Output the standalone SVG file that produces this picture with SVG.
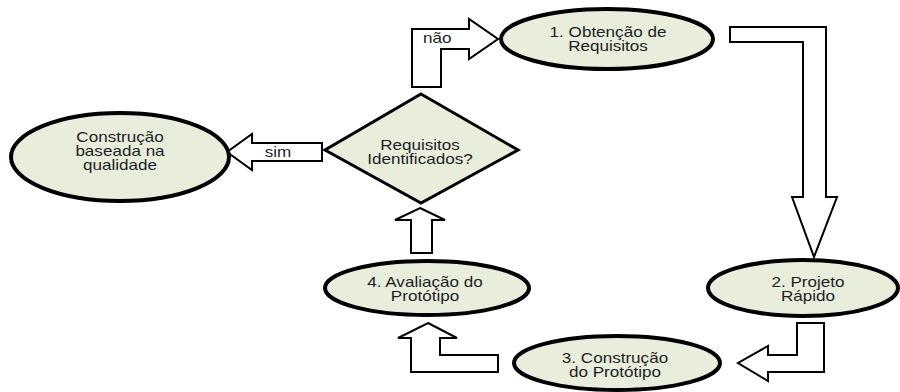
<svg xmlns="http://www.w3.org/2000/svg" width="900" height="392" viewBox="0 0 900 392">
  <style>
    .node { fill: #e8eedb; stroke: #000; stroke-width: 4; }
    .decision { fill: #e8eedb; stroke: #000; stroke-width: 3; }
    .flow { fill: #fff; stroke: #000; stroke-width: 2; stroke-linejoin: miter; }
    .lbl { font-family: "Liberation Sans", Arial, sans-serif; font-size: 14px; fill: #1e1e28; text-anchor: middle; }
    .lbl-start { text-anchor: start; }
  </style>
  <rect width="900" height="392" fill="#fff"/>

  <!-- block arrows between the steps -->
  <g id="connectors">
    <polygon class="flow" points="412,87 412,29 469,29 469,19 498,39 469,59 469,49 441,49 441,87"/>
    <polygon class="flow" points="730,27 826,27 826,197 837,197 814,257 792,197 803,197 803,42 730,42"/>
    <polygon class="flow" points="797,323 824,323 824,372 768,372 768,381 738,363 768,346 768,355 797,355"/>
    <polygon class="flow" points="428,323 457,338 440,338 440,355 498,355 498,372 411,372 411,338 398,338"/>
    <polygon class="flow" points="420,208 445,220 432,220 432,253 411,253 411,220 395,220"/>
    <polygon class="flow" points="322,143 322,161 252,161 252,170 227,152 252,134 252,143"/>
    <g transform="translate(423 0) scale(1.22 1)"><text class="lbl lbl-start" x="0" y="43">não</text></g>
    <g transform="translate(278 0) scale(1.22 1)"><text class="lbl" x="0" y="157">sim</text></g>
  </g>

  <g id="obtencao">
    <ellipse class="node" cx="607" cy="39" rx="106" ry="30"/>
    <g transform="translate(608 0) scale(1.22 1)">
      <text class="lbl" x="0" y="37">1. Obtenção de</text>
      <text class="lbl" x="0" y="51">Requisitos</text>
    </g>
  </g>

  <g id="projeto">
    <ellipse class="node" cx="803" cy="288" rx="95" ry="28"/>
    <g transform="translate(808 0) scale(1.22 1)">
      <text class="lbl" x="0" y="287">2. Projeto</text>
      <text class="lbl" x="0" y="301">Rápido</text>
    </g>
  </g>

  <g id="construcao">
    <ellipse class="node" cx="617" cy="363" rx="103" ry="27"/>
    <g transform="translate(615 0) scale(1.22 1)">
      <text class="lbl" x="0" y="363">3. Construção</text>
      <text class="lbl" x="0" y="377">do Protótipo</text>
    </g>
  </g>

  <g id="avaliacao">
    <ellipse class="node" cx="427" cy="288" rx="102" ry="27"/>
    <g transform="translate(425 0) scale(1.22 1)">
      <text class="lbl" x="0" y="287">4. Avaliação do</text>
      <text class="lbl" x="0" y="301">Protótipo</text>
    </g>
  </g>

  <g id="decisao">
    <polygon class="decision" points="421,94 518,150 421,203 325,150"/>
    <g transform="translate(420 0) scale(1.22 1)">
      <text class="lbl" x="0" y="150">Requisitos</text>
      <text class="lbl" x="0" y="164">Identificados?</text>
    </g>
  </g>

  <g id="qualidade">
    <ellipse class="node" cx="120" cy="157" rx="109" ry="44"/>
    <g transform="translate(120 0) scale(1.22 1)">
      <text class="lbl" x="0" y="142">Construção</text>
      <text class="lbl" x="0" y="156">baseada na</text>
      <text class="lbl" x="0" y="170">qualidade</text>
    </g>
  </g>
</svg>
